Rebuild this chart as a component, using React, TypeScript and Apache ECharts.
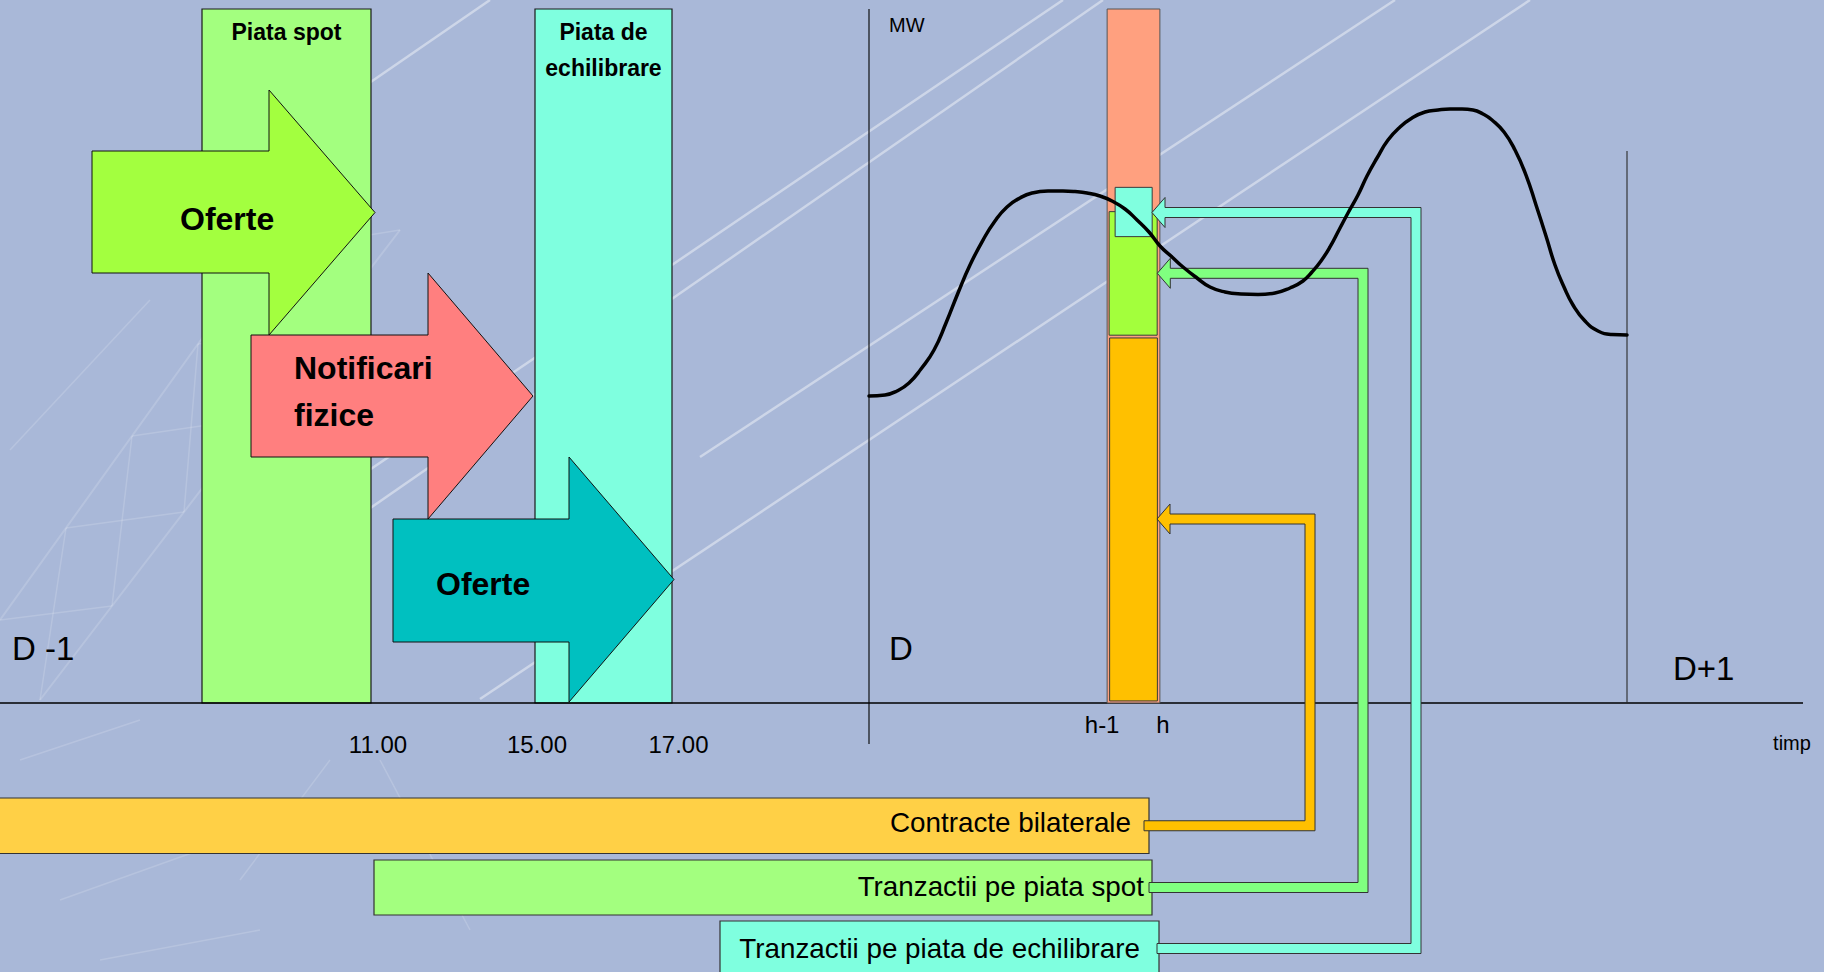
import React, { useEffect, useRef } from 'react';
import * as echarts from 'echarts';

const FONT = '"Liberation Sans", Arial, Helvetica, sans-serif';

// ---------- Day D : load curve (hours of day D, MW on a 0-100 scale) ----------
const loadHours = [
  0, 0.507, 0.887, 1.266, 1.646, 2.058, 2.438, 2.818, 3.198, 3.609,
  3.989, 4.369, 4.781, 5.161, 5.668, 6.142, 6.522, 6.902, 7.314, 7.694,
  8.106, 8.486, 8.865, 9.214, 9.594, 9.942, 10.385, 10.797, 11.272, 11.778,
  12.317, 12.855, 13.33, 13.741, 14.026, 14.311, 14.596, 14.881, 15.166, 15.483,
  15.768, 16.085, 16.433, 16.813, 17.193, 17.604, 18.016, 18.396, 18.776, 19.124,
  19.441, 19.726, 20.106, 20.454, 20.802, 21.119, 21.435, 21.72, 22.005, 22.29,
  22.67, 23.082, 23.525, 24.0,
];
const loadMW = [
  44.24, 44.38, 44.96, 46.11, 48.13, 50.86, 54.75, 59.08, 63.11, 66.71,
  69.45, 71.47, 72.77, 73.49, 73.78, 73.78, 73.7, 73.49, 73.05, 72.33,
  71.18, 69.6, 67.87, 65.85, 64.27, 62.82, 61.24, 59.94, 59.22, 58.93,
  58.86, 59.08, 59.8, 60.81, 62.1, 63.69, 65.71, 68.16, 70.61, 73.2,
  75.94, 78.53, 81.12, 83.0, 84.29, 85.16, 85.45, 85.59, 85.59, 85.45,
  84.87, 84.01, 82.28, 79.68, 76.08, 71.76, 67.29, 63.11, 59.94, 57.35,
  55.04, 53.6, 53.1, 53.03,
];

// hour block h-1 .. h
const blockHours = [7.54, 9.21];
const blockTickLabels = ['h-1', 'h'];
const capacityMW = [0, 100];
const layerNames = ['Contracte bilaterale', 'Tranzactii pe piata spot', 'Tranzactii pe piata de echilibrare'];
const layerMW = [[0.3, 52.6], [53.0, 70.8], [67.2, 74.3]];

// ---------- D-1 timeline (schematic layout units) ----------
const marketNames = ['Piata spot', 'Piata de\nechilibrare'];
const marketSpan = [[202, 371], [535, 672]];
const marketTop = 9;
const baseline = 703;
const timelineLabels = ['11.00', '15.00', '17.00'];
const timelinePos = [378, 537, 678.5];
const flowLabels = ['Oferte', 'Notificari\nfizice', 'Oferte'];
// [start, headBase, tip, bodyTop, bodyBottom, headTop, headBottom]
const flowShapes = [
  [92, 269, 375, 151, 273, 90, 335],
  [251, 428, 533, 335, 457, 273, 519],
  [393, 569, 674, 519, 642, 457, 702],
];
// bottom rows (one per layer)
const rowSpan = [[-3, 1149], [374, 1152], [720, 1159]];
const rowBand = [[798, 853.5], [860, 915], [921, 976]];
// connectors from rows to the hour block
const connectorArrowY = [519, 273.3, 212.5];
const connectorRunX = [1310, 1363, 1416];
const connectorTipX = [1157, 1157.3, 1152];
const connectorStartX = [1144, 1149, 1157];
// texts
const dayLabels = ['D -1', 'D', 'D+1'];
const dayLabelPos = [[12, 648], [889, 648], [1673, 668]];
const axisLines = [[0, 703, 1803, 703], [869, 9, 869, 744], [1627, 151, 1627, 703]];

// styles (kept out of data)
const MARKET_COLORS = ['#A3FF7F', '#7FFFDF'];
const FLOW_COLORS = ['#A3FF3F', '#FF7F7F', '#00C0C0'];
const FLOW_TEXT = [
  { dx: 88, dy: 7, lh: 40 },
  { dx: 43, dy: -4.5, lh: 47 },
  { dx: 43, dy: 3.5, lh: 40 },
];
const ROW_COLORS = ['#FFD046', '#A3FF7F', '#7FFFDF'];
const ROW_TEXT = [{ inset: 18, dy: -3 }, { inset: 8, dy: -1.5 }, { inset: 19, dy: -0.5 }];
const CONNECTOR_COLORS = ['#FFC000', '#80FF80', '#7FFFDF'];
const LAYER_COLORS = ['#FFC000', '#A3FF3C', '#80FFDF'];
const LAYER_INSET = [[2.5, 2.5], [2, 2.7], [8, 7.7]];

const wm = 'rgba(255,255,255,0.42)';
const wt = 'rgba(255,255,255,0.16)';
const watermarkLines: [number, number, number, number, string, number][] = [
  [300, 517, 1063, 0, wm, 2.5],
  [330, 536, 1103, 0, wm, 2.5],
  [480, 699, 1530, 0, wm, 2.5],
  [700, 457, 1395, 0, wm, 2.5],
  [250, 165, 490, 0, wm, 2.5],
  [0, 620, 330, 160, wt, 2],
  [40, 700, 400, 230, wt, 2],
  [0, 620, 112, 606, wt, 1.5],
  [40, 700, 66, 528, wt, 1.5],
  [66, 528, 184, 512, wt, 1.5],
  [112, 606, 132, 436, wt, 1.5],
  [132, 436, 256, 418, wt, 1.5],
  [184, 512, 198, 344, wt, 1.5],
  [198, 344, 328, 324, wt, 1.5],
  [256, 418, 264, 252, wt, 1.5],
  [264, 252, 400, 230, wt, 1.5],
  [328, 324, 330, 160, wt, 1.5],
  [20, 760, 140, 720, wt, 1.5],
  [60, 900, 200, 850, wt, 1.5],
  [240, 880, 330, 760, wt, 1.5],
  [100, 960, 260, 930, wt, 1.5],
  [380, 760, 470, 930, wt, 1.5],
  [10, 450, 150, 300, wt, 1.5],
];

function buildOption() {
  const hidden = { show: false };
  return {
    animation: false,
    backgroundColor: '#A9B8D8',
    grid: [
      { left: 0, top: 0, width: 1824, height: 972, outerBoundsMode: 'none' },
      { left: 869, top: 9, width: 758, height: 694, outerBoundsMode: 'none' },
    ],
    xAxis: [
      { type: 'value', gridIndex: 0, min: 0, max: 1824, ...hidden },
      { type: 'value', gridIndex: 1, min: 0, max: 24, ...hidden },
    ],
    yAxis: [
      { type: 'value', gridIndex: 0, min: 0, max: 972, inverse: true, ...hidden },
      { type: 'value', gridIndex: 1, min: 0, max: 100, ...hidden },
    ],
    graphic: {
      elements: watermarkLines.map(([x1, y1, x2, y2, c, w]) => ({
        type: 'line',
        silent: true,
        z: 0,
        shape: { x1, y1, x2, y2 },
        style: { stroke: c, lineWidth: w },
      })),
    },
    series: [
      // market windows
      {
        type: 'custom',
        name: 'markets',
        xAxisIndex: 0,
        yAxisIndex: 0,
        z: 1,
        data: marketSpan.map((s) => [s[0], s[1]]),
        renderItem: (params: any, api: any) => {
          const i = params.dataIndex;
          const p0 = api.coord([api.value(0), marketTop]);
          const p1 = api.coord([api.value(1), baseline]);
          return {
            type: 'group',
            children: [
              {
                type: 'rect',
                shape: { x: p0[0], y: p0[1], width: p1[0] - p0[0], height: p1[1] - p0[1] },
                style: { fill: MARKET_COLORS[i], stroke: '#1a1a1a', lineWidth: 1.2 },
              },
              {
                type: 'text',
                style: {
                  text: marketNames[i],
                  x: (p0[0] + p1[0]) / 2,
                  y: p0[1] + 5,
                  align: 'center',
                  verticalAlign: 'top',
                  fontFamily: FONT,
                  fontWeight: 'bold',
                  fontSize: 23,
                  lineHeight: 36,
                  fill: '#000',
                },
              },
            ],
          };
        },
      },
      // block arrows
      {
        type: 'custom',
        name: 'flows',
        xAxisIndex: 0,
        yAxisIndex: 0,
        z: 2,
        data: flowShapes,
        renderItem: (params: any, api: any) => {
          const i = params.dataIndex;
          const v = [0, 1, 2, 3, 4, 5, 6].map((k) => api.value(k));
          const [xs, xh, xt, bt, bb, ht, hb] = v;
          const pts = [
            [xs, bt], [xh, bt], [xh, ht], [xt, (ht + hb) / 2], [xh, hb], [xh, bb], [xs, bb],
          ].map((p) => api.coord(p));
          const tp = api.coord([xs + FLOW_TEXT[i].dx, (bt + bb) / 2 + FLOW_TEXT[i].dy]);
          return {
            type: 'group',
            children: [
              { type: 'polygon', shape: { points: pts }, style: { fill: FLOW_COLORS[i], stroke: '#111', lineWidth: 1 } },
              {
                type: 'text',
                style: {
                  text: flowLabels[i],
                  x: tp[0],
                  y: tp[1],
                  align: 'left',
                  verticalAlign: 'middle',
                  fontFamily: FONT,
                  fontWeight: 'bold',
                  fontSize: 32,
                  lineHeight: FLOW_TEXT[i].lh,
                  fill: '#000',
                },
              },
            ],
          };
        },
      },
      // bottom rows
      {
        type: 'custom',
        name: 'rows',
        xAxisIndex: 0,
        yAxisIndex: 0,
        z: 2,
        data: rowSpan.map((s, i) => [s[0], s[1], rowBand[i][0], rowBand[i][1]]),
        renderItem: (params: any, api: any) => {
          const i = params.dataIndex;
          const p0 = api.coord([api.value(0), api.value(2)]);
          const p1 = api.coord([api.value(1), api.value(3)]);
          return {
            type: 'group',
            children: [
              {
                type: 'rect',
                shape: { x: p0[0], y: p0[1], width: p1[0] - p0[0], height: p1[1] - p0[1] },
                style: { fill: ROW_COLORS[i], stroke: '#333', lineWidth: 1.2 },
              },
              {
                type: 'text',
                style: {
                  text: layerNames[i],
                  x: p1[0] - ROW_TEXT[i].inset,
                  y: (p0[1] + p1[1]) / 2 + ROW_TEXT[i].dy,
                  align: 'right',
                  verticalAlign: 'middle',
                  fontFamily: FONT,
                  fontSize: 27.8,
                  fill: '#000',
                },
              },
            ],
          };
        },
      },
      // axis lines
      {
        type: 'custom',
        name: 'axes',
        xAxisIndex: 0,
        yAxisIndex: 0,
        z: 3,
        data: axisLines,
        renderItem: (params: any, api: any) => {
          const i = params.dataIndex;
          const a = api.coord([api.value(0), api.value(1)]);
          const b = api.coord([api.value(2), api.value(3)]);
          return {
            type: 'line',
            shape: { x1: a[0], y1: a[1], x2: b[0], y2: b[1] },
            style: { stroke: i === 2 ? '#2a2a2a' : '#000', lineWidth: i === 0 ? 1.4 : 1.1 },
          };
        },
      },
      // hour block h-1..h
      {
        type: 'custom',
        name: 'hourBlock',
        xAxisIndex: 1,
        yAxisIndex: 1,
        z: 3,
        data: [[blockHours[0], blockHours[1]]],
        renderItem: (params: any, api: any) => {
          const h0 = api.value(0);
          const h1 = api.value(1);
          const c0 = api.coord([h0, capacityMW[1]]);
          const c1 = api.coord([h1, capacityMW[0]]);
          const children: any[] = [
            {
              type: 'rect',
              shape: { x: c0[0], y: c0[1], width: c1[0] - c0[0], height: c1[1] - c0[1] },
              style: { fill: '#FFA07F', stroke: '#555', lineWidth: 1 },
            },
          ];
          layerMW.forEach((m, k) => {
            const a = api.coord([h0, m[1]]);
            const b = api.coord([h1, m[0]]);
            const x = a[0] + LAYER_INSET[k][0];
            const w = b[0] - LAYER_INSET[k][1] - x;
            children.push({
              type: 'rect',
              shape: { x, y: a[1], width: w, height: b[1] - a[1] },
              style: { fill: LAYER_COLORS[k], stroke: '#3a3a3a', lineWidth: 1 },
            });
          });
          return { type: 'group', children };
        },
      },
      // connectors
      {
        type: 'custom',
        name: 'connectors',
        xAxisIndex: 0,
        yAxisIndex: 0,
        z: 4,
        data: connectorArrowY.map((y, i) => [y, connectorRunX[i], connectorTipX[i], connectorStartX[i], (rowBand[i][0] + rowBand[i][1]) / 2]),
        renderItem: (params: any, api: any) => {
          const i = params.dataIndex;
          const ya = api.value(0);
          const rx = api.value(1);
          const tx = api.value(2);
          const sx = api.value(3);
          const yr = api.value(4);
          const t = 5;
          const hx = tx + 13;
          const hh = 15;
          const pts = [
            [tx, ya], [hx, ya - hh], [hx, ya - t], [rx + t, ya - t], [rx + t, yr + t], [sx, yr + t],
            [sx, yr - t], [rx - t, yr - t], [rx - t, ya + t], [hx, ya + t], [hx, ya + hh],
          ].map((p) => api.coord(p));
          return {
            type: 'polygon',
            shape: { points: pts },
            style: { fill: CONNECTOR_COLORS[i], stroke: '#333', lineWidth: 1 },
          };
        },
      },
      // load curve
      {
        type: 'line',
        name: 'load',
        xAxisIndex: 1,
        yAxisIndex: 1,
        z: 5,
        smooth: 0.5,
        symbol: 'none',
        data: loadHours.map((h, i) => [h, loadMW[i]]),
        lineStyle: { color: '#000', width: 3.5, cap: 'round', join: 'round' },
      },
      // timeline tick labels (D-1)
      {
        type: 'custom',
        name: 'timelineLabels',
        xAxisIndex: 0,
        yAxisIndex: 0,
        z: 6,
        data: timelinePos.map((x) => [x, baseline]),
        renderItem: (params: any, api: any) => {
          const p = api.coord([api.value(0), api.value(1)]);
          return {
            type: 'text',
            style: {
              text: timelineLabels[params.dataIndex],
              x: p[0],
              y: p[1] + 41,
              align: 'center',
              verticalAlign: 'middle',
              fontFamily: FONT,
              fontSize: 24,
              fill: '#000',
            },
          };
        },
      },
      // h-1 / h tick labels
      {
        type: 'custom',
        name: 'blockTicks',
        xAxisIndex: 1,
        yAxisIndex: 1,
        z: 6,
        data: blockHours.map((h) => [h, 0]),
        renderItem: (params: any, api: any) => {
          const p = api.coord([api.value(0), api.value(1)]);
          const dx = params.dataIndex === 0 ? -5 : 3;
          return {
            type: 'text',
            style: {
              text: blockTickLabels[params.dataIndex],
              x: p[0] + dx,
              y: p[1] + 21,
              align: 'center',
              verticalAlign: 'middle',
              fontFamily: FONT,
              fontSize: 24,
              fill: '#000',
            },
          };
        },
      },
      // day labels
      {
        type: 'custom',
        name: 'dayLabels',
        xAxisIndex: 0,
        yAxisIndex: 0,
        z: 6,
        data: dayLabelPos,
        renderItem: (params: any, api: any) => {
          const p = api.coord([api.value(0), api.value(1)]);
          return {
            type: 'text',
            style: {
              text: dayLabels[params.dataIndex],
              x: p[0],
              y: p[1],
              align: 'left',
              verticalAlign: 'middle',
              fontFamily: FONT,
              fontSize: 33,
              fill: '#000',
            },
          };
        },
      },
      // axis names
      {
        type: 'custom',
        name: 'axisNames',
        xAxisIndex: 1,
        yAxisIndex: 1,
        z: 6,
        data: [[0, 100], [24, 0]],
        renderItem: (params: any, api: any) => {
          const p = api.coord([api.value(0), api.value(1)]);
          const isMW = params.dataIndex === 0;
          return {
            type: 'text',
            style: {
              text: isMW ? 'MW' : 'timp',
              x: isMW ? p[0] + 20 : p[0] + 165,
              y: isMW ? p[1] + 16 : p[1] + 40,
              align: isMW ? 'left' : 'center',
              verticalAlign: 'middle',
              fontFamily: FONT,
              fontSize: 20,
              fill: '#000',
            },
          };
        },
      },
    ],
  };
}

export default function App() {
  const ref = useRef<HTMLDivElement>(null);
  useEffect(() => {
    if (!ref.current) return;
    const chart = echarts.init(ref.current, undefined, { renderer: 'svg' });
    chart.setOption(buildOption() as any);
    return () => chart.dispose();
  }, []);
  return (
    <div
      ref={ref}
      style={{ position: 'fixed', left: 0, top: 0, width: 1824, height: 972 }}
    />
  );
}
